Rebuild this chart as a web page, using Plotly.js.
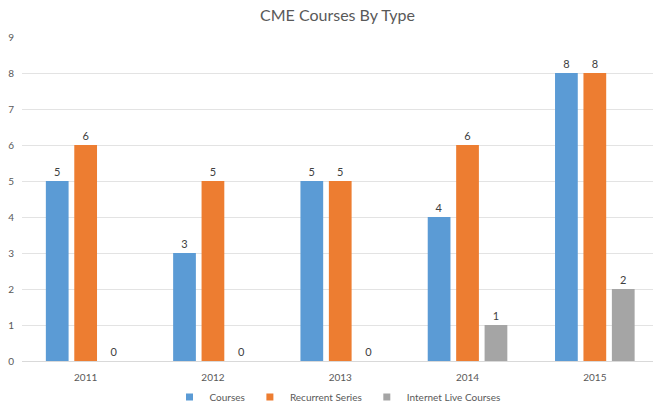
<!DOCTYPE html>
<html>
<head>
<meta charset="utf-8">
<script src="https://cdn.plot.ly/plotly-3.0.1.min.js"></script>
<style>html,body{margin:0;padding:0;background:#fff;}#chart{width:653px;height:406px;}</style>
</head>
<body>
<div id="chart"></div>
<script>
var years = ['2011', '2012', '2013', '2014', '2015'];
var courses = [5, 3, 5, 4, 8];
var recurrentSeries = [6, 5, 5, 6, 8];
var internetLive = [0, 0, 0, 1, 2];
var seriesNames = ['Courses', 'Recurrent Series', 'Internet Live Courses'];
var seriesColors = ['#5B9BD5', '#ED7D31', '#A5A5A5'];

var FONT = 'Lato, Open Sans, sans-serif';
var allValues = [courses, recurrentSeries, internetLive];
var traces = allValues.map(function (vals, i) {
  return {
    type: 'bar',
    name: seriesNames[i],
    x: years,
    y: vals,
    text: vals.map(String),
    textposition: 'outside',
    cliponaxis: false,
    textfont: {family: FONT, size: 11, color: '#404040'},
    marker: {color: seriesColors[i]},
    showlegend: false,
    hoverinfo: 'x+y+name'
  };
});
// legend entries with small square swatches
seriesNames.forEach(function (n, i) {
  traces.push({
    type: 'scatter',
    mode: 'markers',
    name: n,
    x: [null],
    y: [null],
    marker: {symbol: 'square', size: 7, color: seriesColors[i]},
    showlegend: true,
    hoverinfo: 'skip'
  });
});

var layout = {
  width: 653,
  height: 406,
  margin: {l: 22, r: 0, t: 37, b: 45},
  paper_bgcolor: '#ffffff',
  plot_bgcolor: '#ffffff',
  font: {family: FONT, color: '#595959', size: 10},
  title: {
    text: 'CME Courses By Type',
    font: {family: FONT, size: 16, color: '#595959'},
    x: 0.5, xref: 'paper', xanchor: 'center',
    y: 1 - 15 / 406, yref: 'container', yanchor: 'middle'
  },
  barmode: 'group',
  bargap: 0.33,
  bargroupgap: 0.2,
  showlegend: true,
  legend: {
    orientation: 'h',
    x: 0.5, xref: 'paper', xanchor: 'center',
    y: 9 / 406, yref: 'container', yanchor: 'middle',
    font: {family: FONT, size: 10, color: '#595959'},
    itemwidth: 30,
    tracegroupgap: 0
  },
  xaxis: {
    type: 'category',
    range: [-0.5, 4.457],
    autorange: false,
    showgrid: false,
    showline: false,
    zeroline: false,
    ticks: '',
    ticklabelstandoff: 9,
    tickfont: {family: FONT, size: 10, color: '#595959'},
    fixedrange: true
  },
  yaxis: {
    range: [0, 9],
    autorange: false,
    dtick: 1,
    tick0: 0,
    showgrid: true,
    gridcolor: '#E3E3E3',
    gridwidth: 1,
    zeroline: true,
    zerolinecolor: '#D9D9D9',
    zerolinewidth: 1,
    showline: false,
    ticks: '',
    ticklabelstandoff: 7,
    tickfont: {family: FONT, size: 10, color: '#595959'},
    fixedrange: true
  }
};

Plotly.newPlot('chart', traces, layout, {displayModeBar: false, staticPlot: true});
</script>
</body>
</html>
